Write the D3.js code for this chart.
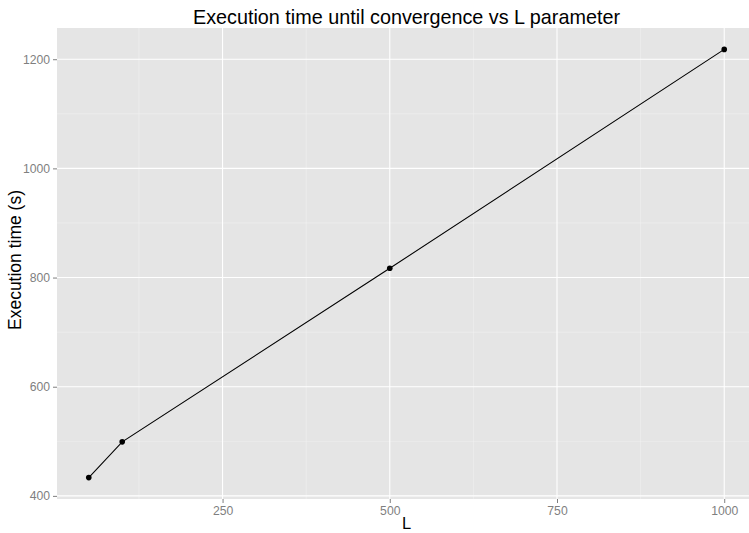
<!DOCTYPE html>
<html>
<head>
<meta charset="utf-8">
<script src="https://cdn.jsdelivr.net/npm/d3@7"></script>
<style>
  html, body { margin: 0; padding: 0; background: #fff; }
  svg { display: block; font-family: "Liberation Sans", Arial, sans-serif; }
</style>
</head>
<body>
<svg id="chart" width="749" height="533"></svg>
<script>
const lValues = [50, 100, 500, 1000];
const execTimes = [433.5, 499, 817, 1218];
const xTicks = [250, 500, 750, 1000];
const xMinor = [125, 375, 625, 875];
const yTicks = [400, 600, 800, 1000, 1200];
const yMinor = [500, 700, 900, 1100];
const title = "Execution time until convergence vs L parameter";
const xTitle = "L";
const yTitle = "Execution time (s)";

const W = 749, H = 533;
const panel = { left: 57, top: 28, right: 756, bottom: 499 };

const svg = d3.select("#chart");

const x = d3.scaleLinear().domain([2.5, 1047.5]).range([panel.left, panel.right]);
const y = d3.scaleLinear().domain([394.3, 1257.2]).range([panel.bottom, panel.top]);

svg.append("rect")
  .attr("x", panel.left).attr("y", panel.top)
  .attr("width", panel.right - panel.left).attr("height", panel.bottom - panel.top)
  .attr("fill", "#E5E5E5");

const g = svg.append("g");
// minor grid
g.selectAll(".xmin").data(xMinor).enter().append("line")
  .attr("x1", d => x(d)).attr("x2", d => x(d))
  .attr("y1", panel.top).attr("y2", panel.bottom)
  .attr("stroke", "#F2F2F2").attr("stroke-width", 0.55);
g.selectAll(".ymin").data(yMinor).enter().append("line")
  .attr("x1", panel.left).attr("x2", panel.right)
  .attr("y1", d => y(d)).attr("y2", d => y(d))
  .attr("stroke", "#F2F2F2").attr("stroke-width", 0.55);
// major grid
g.selectAll(".xmaj").data(xTicks).enter().append("line")
  .attr("x1", d => x(d)).attr("x2", d => x(d))
  .attr("y1", panel.top).attr("y2", panel.bottom)
  .attr("stroke", "#FFFFFF").attr("stroke-width", 1.07);
g.selectAll(".ymaj").data(yTicks).enter().append("line")
  .attr("x1", panel.left).attr("x2", panel.right)
  .attr("y1", d => y(d)).attr("y2", d => y(d))
  .attr("stroke", "#FFFFFF").attr("stroke-width", 1.07);

// axes
const xAxis = d3.axisBottom(x).tickValues(xTicks).tickSize(4).tickPadding(3).tickFormat(d3.format("d"));
const yAxis = d3.axisLeft(y).tickValues(yTicks).tickSize(4).tickPadding(3).tickFormat(d3.format("d"));

const gx = svg.append("g").attr("transform", `translate(0,${panel.bottom})`).call(xAxis);
const gy = svg.append("g").attr("transform", `translate(${panel.left},0)`).call(yAxis);
[gx, gy].forEach(a => {
  a.select(".domain").remove();
  a.selectAll(".tick line").attr("stroke", "#7F7F7F").attr("stroke-width", 1);
  a.selectAll(".tick text").attr("fill", "#7F7F7F").attr("font-size", 12.2)
    .attr("font-family", "Liberation Sans, Arial, sans-serif");
});

// line + points
const line = d3.line().x((d, i) => x(lValues[i])).y(d => y(d));
svg.append("path").datum(execTimes)
  .attr("d", line).attr("fill", "none").attr("stroke", "#000").attr("stroke-width", 1.07);
svg.selectAll(".pt").data(execTimes).enter().append("circle")
  .attr("cx", (d, i) => x(lValues[i])).attr("cy", d => y(d))
  .attr("r", 2.8).attr("fill", "#000");

// titles
const cx = (panel.left + panel.right) / 2;
svg.append("text").attr("x", cx).attr("y", 24.3).attr("text-anchor", "middle")
  .attr("font-size", 19.8).attr("fill", "#000").text(title);
svg.append("text").attr("x", cx).attr("y", 529).attr("text-anchor", "middle")
  .attr("font-size", 16.5).attr("fill", "#000").text(xTitle);
svg.append("text").attr("transform", `translate(20.7,260) rotate(-90)`)
  .attr("text-anchor", "middle").attr("font-size", 17.5).attr("fill", "#000").text(yTitle);
</script>
</body>
</html>
